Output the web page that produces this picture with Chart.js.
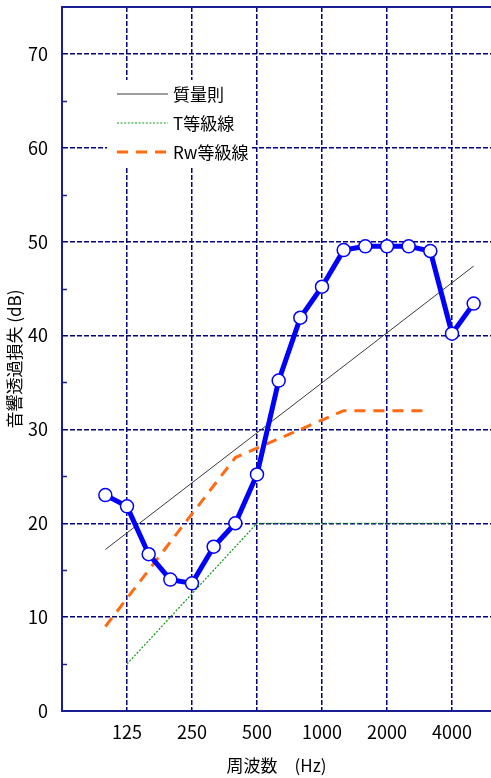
<!DOCTYPE html>
<html lang="ja">
<head>
<meta charset="utf-8">
<script src="https://cdn.jsdelivr.net/npm/chart.js@4.4.1/dist/chart.umd.min.js"></script>
<style>
  html, body { margin: 0; padding: 0; background: #fff; }
  canvas { display: block; }
</style>
</head>
<body>
<canvas id="c" width="491" height="778"></canvas>
<script>
// 1/3オクターブ帯域の中心周波数 (Hz)
const bands = ['100', '125', '160', '200', '250', '315', '400', '500', '630',
               '800', '1000', '1250', '1600', '2000', '2500', '3150', '4000', '5000'];
// 横軸に表示するオクターブ帯域
const axisLabels = ['125', '250', '500', '1000', '2000', '4000'];

// 音響透過損失 測定値 (dB)
const tlValues = [23.0, 21.8, 16.7, 14.0, 13.6, 17.5, 20.0, 25.2, 35.2,
                  41.9, 45.2, 49.1, 49.5, 49.5, 49.5, 49.0, 40.2, 43.4];

// 質量則 (両端の値)
const massLawBands = ['100', '5000'];
const massLawValues = [17.2, 47.4];

// T等級線
const tClassBands = ['125', '500', '4000'];
const tClassValues = [5, 20, 20];

// Rw等級線 (100〜3150 Hz)
const rwBands = ['100', '125', '160', '200', '250', '315', '400', '500',
                 '630', '800', '1000', '1250', '1600', '2000', '2500', '3150'];
const rwValues = [9, 12, 15, 18, 21, 24, 27, 28, 29, 30, 31, 32, 32, 32, 32, 32];

const legendOrder = ['質量則', 'T等級線', 'Rw等級線'];

const NAVY = '#1c1c96';
const GRID = '#000080';
const LATIN = '"Liberation Sans Narrow", "Noto Sans CJK JP", sans-serif';

const idx = f => bands.indexOf(f);
const pts = (fs, vs) => fs.map((f, i) => ({ x: idx(f), y: vs[i] }));

// 軸の余白を使わず、描画領域をレイアウトの値どおりにする
function noScalePadding(s) {
  s.paddingTop = 0;
  s.paddingBottom = 0;
  s.paddingLeft = 0;
  s.paddingRight = 0;
}

// 枠上辺・目盛り(5dB)・凡例
const framePlugin = {
  id: 'frameAndLegend',
  beforeDatasetsDraw(chart) {
    const { ctx, chartArea: a, scales: { y } } = chart;
    ctx.save();
    // 上辺
    ctx.strokeStyle = NAVY;
    ctx.lineWidth = 2;
    ctx.beginPath();
    ctx.moveTo(a.left, a.top);
    ctx.lineTo(a.right, a.top);
    ctx.stroke();
    // 内向きの小目盛り
    ctx.lineWidth = 1.5;
    for (let v = 5; v < 75; v += 10) {
      const py = Math.round(y.getPixelForValue(v)) + 0.5;
      ctx.beginPath();
      ctx.moveTo(a.left, py);
      ctx.lineTo(a.left + 5, py);
      ctx.stroke();
    }
    // 凡例
    ctx.fillStyle = '#fff';
    ctx.fillRect(107, 80, 145, 87);
    const rowY = [94, 123, 152];
    legendOrder.forEach((name, i) => {
      const ds = chart.data.datasets.find(d => d.label === name);
      ctx.save();
      ctx.strokeStyle = ds.borderColor;
      ctx.lineWidth = ds.borderWidth;
      ctx.setLineDash(ds.borderDash || []);
      ctx.beginPath();
      ctx.moveTo(117, rowY[i]);
      ctx.lineTo(168, rowY[i]);
      ctx.stroke();
      ctx.restore();
      ctx.fillStyle = '#000';
      ctx.font = '17px ' + LATIN;
      ctx.textBaseline = 'middle';
      ctx.textAlign = 'left';
      ctx.fillText(name, 173, rowY[i] + 1);
    });
    ctx.restore();
  }
};

new Chart(document.getElementById('c'), {
  type: 'line',
  data: {
    datasets: [
      {
        label: '音響透過損失',
        data: pts(bands, tlValues),
        borderColor: '#0000ff',
        borderWidth: 5,
        pointRadius: 6.5,
        pointBackgroundColor: '#ffffff',
        pointBorderColor: '#0000ff',
        pointBorderWidth: 1.5
      },
      {
        label: '質量則',
        data: pts(massLawBands, massLawValues),
        borderColor: '#3a3a3a',
        borderWidth: 1,
        pointRadius: 0
      },
      {
        label: 'T等級線',
        data: pts(tClassBands, tClassValues),
        borderColor: '#139a13',
        borderWidth: 1.2,
        borderDash: [2, 1.6],
        pointRadius: 0
      },
      {
        label: 'Rw等級線',
        data: pts(rwBands, rwValues),
        borderColor: '#ff6a12',
        borderWidth: 3,
        borderDash: [11, 8],
        pointRadius: 0
      }
    ]
  },
  options: {
    responsive: false,
    animation: false,
    devicePixelRatio: 1,
    layout: { autoPadding: false, padding: { top: 7, right: 0, left: 0, bottom: 0 } },
    plugins: {
      legend: { display: false },
      tooltip: { enabled: false }
    },
    elements: { line: { tension: 0 } },
    scales: {
      x: {
        type: 'linear',
        min: -2,
        max: 17.8,
        afterFit(s) { s.height = 67; noScalePadding(s); },
        afterBuildTicks(s) { s.ticks = axisLabels.map(f => ({ value: idx(f) })); },
        ticks: {
          autoSkip: false,
          maxRotation: 0,
          padding: 10,
          color: '#000',
          font: { family: LATIN, size: 18 },
          callback: v => bands[v]
        },
        grid: { drawTicks: false, color: GRID, lineWidth: 1.5 },
        border: { display: true, color: NAVY, width: 2, dash: [5, 2] },
        title: {
          display: true,
          text: '周波数　(Hz)',
          color: '#000',
          font: { family: LATIN, size: 17 },
          padding: { top: 0, bottom: 2 }
        }
      },
      y: {
        min: 0,
        max: 75,
        afterFit(s) { s.width = 62; noScalePadding(s); },
        ticks: {
          stepSize: 5,
          padding: 14,
          color: '#000',
          font: { family: LATIN, size: 18 },
          callback: v => (v % 10 === 0 && v < 75) ? String(v) : ''
        },
        grid: {
          drawTicks: false,
          lineWidth: 1.5,
          color: c => (c.tick && c.tick.value % 10 === 0 && c.tick.value > 0 && c.tick.value < 75)
            ? GRID : 'rgba(0,0,0,0)'
        },
        border: { display: true, color: NAVY, width: 2, dash: [5, 2] },
        title: {
          display: true,
          text: '音響透過損失 (dB)',
          color: '#000',
          font: { family: LATIN, size: 17 },
          padding: { top: 4, bottom: 0 }
        }
      }
    }
  },
  plugins: [framePlugin]
});
</script>
</body>
</html>
